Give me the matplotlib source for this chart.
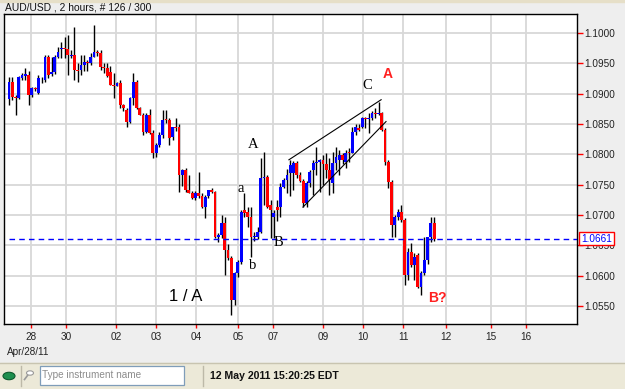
import matplotlib
matplotlib.use("Agg")
import matplotlib.pyplot as plt
from matplotlib.patches import Rectangle, Circle
from matplotlib.transforms import blended_transform_factory

plt.rcParams['font.family'] = ['Liberation Sans', 'DejaVu Sans']

# 2 hour candles, AUD/USD (open, high, low, close)
opens = [1.0891, 1.0919, 1.0895, 1.0893, 1.0926, 1.0929, 1.0931, 1.0898, 1.0909, 1.0901,
         1.0922, 1.0922, 1.0960, 1.0932, 1.0936, 1.0960, 1.0974, 1.0975, 1.0974, 1.0962,
         1.0964, 1.0939, 1.0939, 1.0947, 1.0952, 1.0951, 1.0960, 1.0969, 1.0967, 1.0944,
         1.0942, 1.0936, 1.0914, 1.0913, 1.0918, 1.0881, 1.0873, 1.0853, 1.0893, 1.0919,
         1.0876, 1.0865, 1.0837, 1.0865, 1.0835, 1.0802, 1.0816, 1.0832, 1.0858, 1.0857,
         1.0829, 1.0845, 1.0845, 1.0766, 1.0774, 1.0741, 1.0736, 1.0728, 1.0736, 1.0731,
         1.0713, 1.0731, 1.0741, 1.0738, 1.0664, 1.0667, 1.0687, 1.0642, 1.0629, 1.0560,
         1.0604, 1.0622, 1.0708, 1.0705, 1.0697, 1.0664, 1.0664, 1.0672, 1.0761, 1.0763,
         1.0716, 1.0697, 1.0713, 1.0713, 1.0746, 1.0758, 1.0769, 1.0769, 1.0786, 1.0766,
         1.0756, 1.0720, 1.0753, 1.0774, 1.0786, 1.0787, 1.0791, 1.0784, 1.0774, 1.0753,
         1.0786, 1.0791, 1.0799, 1.0787, 1.0804, 1.0802, 1.0837, 1.0843, 1.0845, 1.0860,
         1.0858, 1.0860, 1.0868, 1.0867, 1.0868, 1.0840, 1.0787, 1.0754, 1.0683, 1.0697,
         1.0705, 1.0692, 1.0601, 1.0639, 1.0617, 1.0634, 1.0581, 1.0604, 1.0626, 1.0664,
         1.0687]
highs = [1.0927, 1.0927, 1.0898, 1.0929, 1.0934, 1.0942, 1.0937, 1.0911, 1.0911, 1.0931,
         1.0927, 1.0964, 1.0964, 1.0960, 1.0964, 1.0977, 1.0985, 1.0993, 1.0997, 1.0972,
         1.1010, 1.0951, 1.0964, 1.0964, 1.0955, 1.0967, 1.1013, 1.0972, 1.0972, 1.0951,
         1.0950, 1.0946, 1.0934, 1.0919, 1.0922, 1.0883, 1.0876, 1.0895, 1.0934, 1.0922,
         1.0878, 1.0868, 1.0868, 1.0875, 1.0840, 1.0818, 1.0836, 1.0873, 1.0873, 1.0860,
         1.0845, 1.0860, 1.0850, 1.0776, 1.0778, 1.0766, 1.0740, 1.0740, 1.0771, 1.0736,
         1.0733, 1.0741, 1.0744, 1.0740, 1.0670, 1.0700, 1.0697, 1.0652, 1.0632, 1.0606,
         1.0626, 1.0709, 1.0736, 1.0713, 1.0713, 1.0672, 1.0680, 1.0794, 1.0804, 1.0766,
         1.0725, 1.0708, 1.0725, 1.0753, 1.0761, 1.0776, 1.0791, 1.0789, 1.0789, 1.0771,
         1.0760, 1.0756, 1.0774, 1.0791, 1.0812, 1.0792, 1.0799, 1.0802, 1.0794, 1.0804,
         1.0812, 1.0807, 1.0802, 1.0807, 1.0810, 1.0845, 1.0850, 1.0850, 1.0862, 1.0862,
         1.0868, 1.0872, 1.0877, 1.0886, 1.0870, 1.0844, 1.0791, 1.0758, 1.0700, 1.0710,
         1.0716, 1.0695, 1.0645, 1.0654, 1.0637, 1.0637, 1.0608, 1.0664, 1.0664, 1.0697,
         1.0697]
lows = [1.0881, 1.0889, 1.0865, 1.0891, 1.0922, 1.0922, 1.0881, 1.0895, 1.0905, 1.0900,
        1.0918, 1.0919, 1.0926, 1.0929, 1.0932, 1.0959, 1.0959, 1.0959, 1.0931, 1.0959,
        1.0922, 1.0919, 1.0931, 1.0937, 1.0937, 1.0947, 1.0960, 1.0962, 1.0939, 1.0934,
        1.0927, 1.0914, 1.0893, 1.0913, 1.0876, 1.0872, 1.0845, 1.0852, 1.0881, 1.0874,
        1.0864, 1.0832, 1.0835, 1.0834, 1.0794, 1.0796, 1.0812, 1.0827, 1.0852, 1.0815,
        1.0824, 1.0838, 1.0738, 1.0748, 1.0738, 1.0736, 1.0726, 1.0725, 1.0728, 1.0711,
        1.0695, 1.0728, 1.0736, 1.0662, 1.0655, 1.0662, 1.0601, 1.0626, 1.0535, 1.0552,
        1.0598, 1.0619, 1.0697, 1.0680, 1.0631, 1.0657, 1.0660, 1.0670, 1.0716, 1.0711,
        1.0662, 1.0662, 1.0690, 1.0697, 1.0744, 1.0736, 1.0731, 1.0741, 1.0761, 1.0754,
        1.0713, 1.0713, 1.0746, 1.0733, 1.0766, 1.0738, 1.0749, 1.0761, 1.0733, 1.0736,
        1.0774, 1.0766, 1.0784, 1.0777, 1.0787, 1.0802, 1.0832, 1.0838, 1.0843, 1.0843,
        1.0835, 1.0856, 1.0860, 1.0865, 1.0838, 1.0782, 1.0744, 1.0664, 1.0664, 1.0692,
        1.0688, 1.0584, 1.0593, 1.0615, 1.0593, 1.0579, 1.0568, 1.0601, 1.0619, 1.0655,
        1.0657]
closes = [1.0919, 1.0895, 1.0893, 1.0927, 1.0931, 1.0932, 1.0898, 1.0909, 1.0908, 1.0926,
          1.0923, 1.0960, 1.0931, 1.0936, 1.0960, 1.0969, 1.0975, 1.0974, 1.0964, 1.0964,
          1.0939, 1.0938, 1.0947, 1.0952, 1.0951, 1.0960, 1.0969, 1.0967, 1.0944, 1.0942,
          1.0929, 1.0914, 1.0913, 1.0918, 1.0881, 1.0876, 1.0853, 1.0893, 1.0919, 1.0876,
          1.0865, 1.0837, 1.0865, 1.0835, 1.0802, 1.0816, 1.0832, 1.0857, 1.0856, 1.0827,
          1.0845, 1.0843, 1.0766, 1.0774, 1.0741, 1.0736, 1.0728, 1.0736, 1.0731, 1.0713,
          1.0730, 1.0741, 1.0738, 1.0664, 1.0667, 1.0687, 1.0642, 1.0629, 1.0560, 1.0604,
          1.0622, 1.0705, 1.0703, 1.0697, 1.0664, 1.0666, 1.0672, 1.0761, 1.0763, 1.0713,
          1.0708, 1.0703, 1.0708, 1.0746, 1.0758, 1.0766, 1.0782, 1.0786, 1.0766, 1.0756,
          1.0720, 1.0753, 1.0771, 1.0786, 1.0787, 1.0791, 1.0784, 1.0774, 1.0758, 1.0786,
          1.0796, 1.0799, 1.0791, 1.0802, 1.0802, 1.0837, 1.0845, 1.0840, 1.0860, 1.0859,
          1.0860, 1.0868, 1.0867, 1.0868, 1.0840, 1.0787, 1.0754, 1.0683, 1.0697, 1.0705,
          1.0692, 1.0601, 1.0639, 1.0617, 1.0631, 1.0581, 1.0604, 1.0626, 1.0664, 1.0687,
          1.0661]

last_price = 1.0661

# date labels on the bottom axis (bar index where the day starts)
day_pos = [6.7, 17.4, 32.7, 45.0, 57.2, 70.0, 80.7, 96.0, 108.3, 120.5, 133.6, 147.4, 158.1]
day_labels = ['28', '30', '02', '03', '04', '05', '07', '09', '10', '11', '12', '15', '16']
price_ticks = [1.0550, 1.0600, 1.0650, 1.0700, 1.0750, 1.0800, 1.0850, 1.0900, 1.0950, 1.1000]

# wave labels: (text, bar index, price)
wave_labels = [
    ('A', 74.6, 1.0817),
    ('a', 70.9, 1.0743),
    ('b', 74.6, 1.0616),
    ('B', 82.3, 1.0655),
    ('C', 109.5, 1.0913),
]
# channel lines drawn on the chart
upper_line_x = [85.6, 113.8]
upper_line_y = [1.0791, 1.0890]
lower_line_x = [89.9, 115.3]
lower_line_y = [1.0713, 1.0854]

W, H = 625, 389


def fx(px):
    return px / W


def fy(py):
    return 1 - py / H


fig = plt.figure(figsize=(W / 100, H / 100), dpi=100, facecolor='#EEEEEE')

# top thin strip and bottom status bar
fig.patches.append(Rectangle((0, fy(2)), 1, 2 / H, transform=fig.transFigure, color='#E6DFC8', zorder=0))
fig.patches.append(Rectangle((0, 0), 1, fy(363), transform=fig.transFigure, color='#ECE9D8', zorder=0))
fig.lines.append(plt.Line2D([0, 1], [fy(363), fy(363)], transform=fig.transFigure, color='#C8C4B0', lw=1))
fig.text(fx(5), fy(8), 'AUD/USD , 2 hours, # 126 / 300', fontsize=7.4, va='center', ha='left', color='#111111')
fig.text(fx(7), fy(352), 'Apr/28/11', fontsize=7.2, va='center', ha='left', color='#222222')

ax = fig.add_axes([fx(4), fy(324), 573 / W, 310 / H])
ax.set_facecolor('white')

n = len(opens)
idx = list(range(n))
ax.vlines(idx, lows, highs, color='black', lw=1, zorder=3)
body_bottom = [min(o, c) for o, c in zip(opens, closes)]
body_height = [max(abs(c - o), 0.00012) for o, c in zip(opens, closes)]
body_color = ['#0000FF' if c >= o else '#FF0000' for o, c in zip(opens, closes)]
ax.bar(idx, body_height, bottom=body_bottom, width=0.86, color=body_color, zorder=4, linewidth=0)

ax.plot(upper_line_x, upper_line_y, color='black', lw=0.8, zorder=5)
ax.plot(lower_line_x, lower_line_y, color='black', lw=0.8, zorder=5)

ax.axhline(last_price, xmin=5 / 573, color='#0000FF', lw=1, ls=(0, (4, 3)), zorder=6)

for txt, x, y in wave_labels:
    ax.text(x, y, txt, color='black', fontsize=10.5, ha='center', va='center',
            family=['Liberation Serif', 'DejaVu Serif'], zorder=7)
ax.text(54.1, 1.0565, '1 / A', color='black', fontsize=12, ha='center', va='center', zorder=7)
ax.text(115.9, 1.0932, 'A', color='#FF2020', fontsize=10, fontweight='bold', ha='center', va='center', zorder=7)
ax.text(130.9, 1.0563, 'B?', color='#FF2020', fontsize=10, fontweight='bold', ha='center', va='center', zorder=7)

ax.set_xlim(-1.53, 173.7)
ax.set_ylim(1.05203, 1.10313)

ax.set_xticks(day_pos)
ax.set_xticklabels(day_labels)
ax.set_yticks(price_ticks)
ax.set_yticklabels(['%.4f' % p for p in price_ticks])
ax.yaxis.tick_right()
ax.tick_params(axis='both', colors='#FF0000', labelcolor='#222222', labelsize=7.2, width=1)
ax.tick_params(axis='y', length=4, pad=1)
ax.tick_params(axis='x', length=3, pad=3)
ax.grid(True, color='#D8D8D8', lw=1.3, zorder=0)
ax.set_axisbelow(True)
for s in ax.spines.values():
    s.set_color('black')
    s.set_linewidth(1)

# current price box
trans = blended_transform_factory(ax.transAxes, ax.transData)
ax.text(1.0 + 4 / 573, last_price, '1.0661', transform=trans, color='#0000FF', fontsize=7.2,
        ha='left', va='center', zorder=8,
        bbox=dict(facecolor='white', edgecolor='#FF0000', pad=1.2, lw=1))

# status bar widgets
fig.patches.append(Circle((fx(9), fy(376)), 6 / W, transform=fig.transFigure,
                          facecolor='#1E8F4E', edgecolor='#0E5A2E', lw=0.8))
fig.lines.append(plt.Line2D([fx(21), fx(21)], [fy(366), fy(386)], transform=fig.transFigure, color='#BDB9A8', lw=1))
fig.patches.append(Circle((fx(30), fy(373)), 3.5 / W, transform=fig.transFigure,
                          facecolor='white', edgecolor='#9A9A9A', lw=0.8))
fig.lines.append(plt.Line2D([fx(27.5), fx(24.5)], [fy(375.5), fy(379.5)], transform=fig.transFigure, color='#9A9A9A', lw=1.2))
fig.patches.append(Rectangle((fx(40), fy(385)), 144 / W, 19 / H, transform=fig.transFigure,
                             facecolor='white', edgecolor='#7F9DB9', lw=0.9))
fig.text(fx(42), fy(375.5), 'Type instrument name', fontsize=7.2, color='#8C8C8C', va='center', ha='left')
fig.lines.append(plt.Line2D([fx(203), fx(203)], [fy(366), fy(386)], transform=fig.transFigure, color='#BDB9A8', lw=1))
fig.text(fx(210), fy(376), '12 May 2011 15:20:25 EDT', fontsize=7.6, fontweight='bold', color='#111111', va='center', ha='left')

fig.savefig('out.png', dpi=100, facecolor=fig.get_facecolor())
